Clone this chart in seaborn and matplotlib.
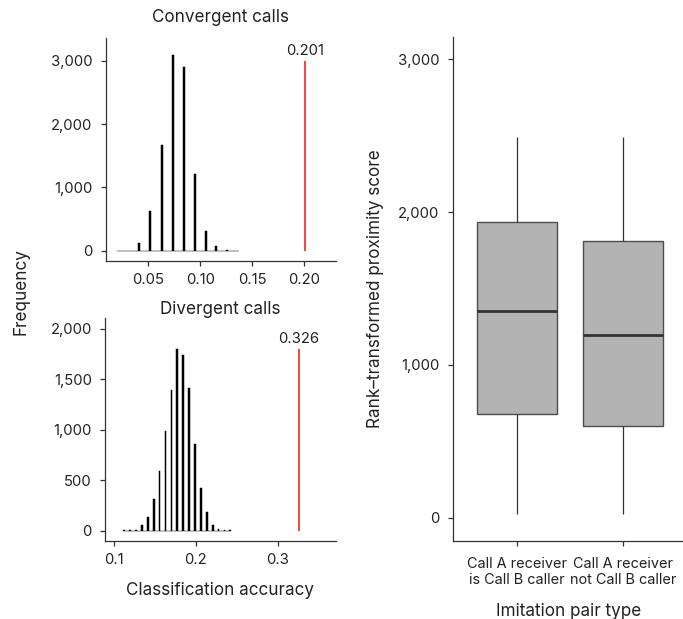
import numpy as np
import pandas as pd
import matplotlib
matplotlib.use("Agg")
import matplotlib.pyplot as plt
import seaborn as sns
from matplotlib.ticker import FuncFormatter

sns.set_theme(style="ticks")
plt.rcParams["font.family"] = ["Inter", "DejaVu Sans"]

# Permutation null distributions of classification accuracy
conv_acc = [0.0205, 0.0314, 0.0413, 0.0516, 0.0629, 0.0738, 0.0845, 0.0951,
            0.1057, 0.1153, 0.1263, 0.1369]
conv_freq = [2, 3, 126, 627, 1669, 3085, 2905, 1211, 311, 74, 5, 2]
conv_observed = 0.201
conv_line_top = 3000

div_acc = [0.1126, 0.1198, 0.1270, 0.1342, 0.1414, 0.1486, 0.1558, 0.1630,
           0.1702, 0.1774, 0.1846, 0.1918, 0.1990, 0.2062, 0.2134, 0.2206,
           0.2278, 0.2350, 0.2422]
div_freq = [2, 3, 5, 56, 135, 313, 590, 986, 1392, 1798, 1739, 1415, 858,
            422, 181, 56, 17, 3, 2]
div_observed = 0.326
div_line_top = 1800

# Rank-transformed proximity scores: min, Q1, median, Q3, max per pair type
pair_types = ["Call A receiver\nis Call B caller", "Call A receiver\nnot Call B caller"]
score_min = [22, 22]
score_q1 = [677, 600]
score_median = [1353, 1198]
score_q3 = [1937, 1813]
score_max = [2493, 2493]

TEXT = "#222222"
AXIS = "#333333"
RED = "#EE4B4B"
TICK_FS = 10.7
LABEL_FS = 12.3

plt.rcParams.update({
    "axes.edgecolor": AXIS,
    "axes.linewidth": 0.9,
    "xtick.color": AXIS,
    "ytick.color": AXIS,
    "xtick.labelcolor": TEXT,
    "ytick.labelcolor": TEXT,
    "xtick.major.size": 3.5,
    "ytick.major.size": 3.5,
    "xtick.major.width": 0.9,
    "ytick.major.width": 0.9,
    "xtick.major.pad": 5,
    "ytick.major.pad": 6,
    "xtick.labelsize": TICK_FS,
    "ytick.labelsize": TICK_FS,
    "text.color": TEXT,
    "axes.labelcolor": TEXT,
})

comma = FuncFormatter(lambda v, p: f"{int(round(v)):,}")

fig = plt.figure(figsize=(6.83, 6.19), dpi=100)
ax_top = fig.add_axes([0.1546, 0.5788, 0.3369, 0.3598])
ax_bot = fig.add_axes([0.1537, 0.1265, 0.3378, 0.3593])
ax_box = fig.add_axes([0.6628, 0.1265, 0.3400, 0.8133])


def null_hist(ax, acc, freq, observed, line_top, half_width):
    df = pd.DataFrame({"acc": acc, "freq": freq})
    centers = df["acc"].to_numpy()
    edges = np.sort(np.concatenate([centers - half_width, centers + half_width]))
    sns.histplot(data=df, x="acc", weights="freq", bins=edges.tolist(), ax=ax,
                 color="black", edgecolor="black", linewidth=0.35, alpha=1)
    ax.vlines(observed, 0, line_top, color=RED, linewidth=1.5)
    ax.annotate(f"{observed:.3f}", (observed, line_top), xytext=(0, 2),
                textcoords="offset points", ha="center", va="bottom",
                fontsize=TICK_FS, color=TEXT)
    ax.set_xlabel("")
    ax.set_ylabel("")
    ax.yaxis.set_major_formatter(comma)
    sns.despine(ax=ax)


null_hist(ax_top, conv_acc, conv_freq, conv_observed, conv_line_top, 0.001)
ax_top.set_xlim(0.0089, 0.2306)
ax_top.set_ylim(-158, 3360)
ax_top.set_xticks([0.05, 0.10, 0.15, 0.20])
ax_top.set_xticklabels(["0.05", "0.10", "0.15", "0.20"])
ax_top.set_yticks([0, 1000, 2000, 3000])
ax_top.set_title("Convergent calls", fontsize=LABEL_FS, color=TEXT, pad=11.5)

null_hist(ax_bot, div_acc, div_freq, div_observed, div_line_top, 0.00105)
ax_bot.set_xlim(0.089, 0.371)
ax_bot.set_ylim(-99, 2103)
ax_bot.set_xticks([0.1, 0.2, 0.3])
ax_bot.set_xticklabels(["0.1", "0.2", "0.3"])
ax_bot.set_yticks([0, 500, 1000, 1500, 2000])
ax_bot.set_title("Divergent calls", fontsize=LABEL_FS, color=TEXT, pad=0.5)
ax_bot.set_xlabel("Classification accuracy", fontsize=LABEL_FS, labelpad=11)

fig.text(0.031, 0.529, "Frequency", rotation=90, ha="center", va="center",
         fontsize=LABEL_FS, color=TEXT)

# Box plot built from the five-number summaries
rows = []
for i, name in enumerate(pair_types):
    for v in (score_min[i], score_q1[i], score_median[i], score_q3[i], score_max[i]):
        rows.append({"pair": name, "score": v})
box_df = pd.DataFrame(rows)

sns.boxplot(data=box_df, x="pair", y="score", order=pair_types, ax=ax_box,
            color="#B3B3B3", saturation=1, width=0.75, whis=(0, 100),
            showcaps=False, linecolor="#4D4D4D", linewidth=1.0,
            medianprops=dict(color="#333333", linewidth=2.0),
            whiskerprops=dict(color="#333333", linewidth=0.9))
ax_box.set_xlim(-0.6, 1.58)
ax_box.set_ylim(-150, 3144)
ax_box.set_yticks([0, 1000, 2000, 3000])
ax_box.yaxis.set_major_formatter(comma)
ax_box.set_xlabel("Imitation pair type", fontsize=LABEL_FS, labelpad=11.5)
ax_box.set_ylabel("Rank\u2013transformed proximity score", fontsize=LABEL_FS, labelpad=10)
ax_box.tick_params(axis="x", labelsize=10.4, pad=8)
for lbl in ax_box.get_xticklabels():
    lbl.set_linespacing(1.2)
sns.despine(ax=ax_box)

fig.savefig("out.png", dpi=100)
